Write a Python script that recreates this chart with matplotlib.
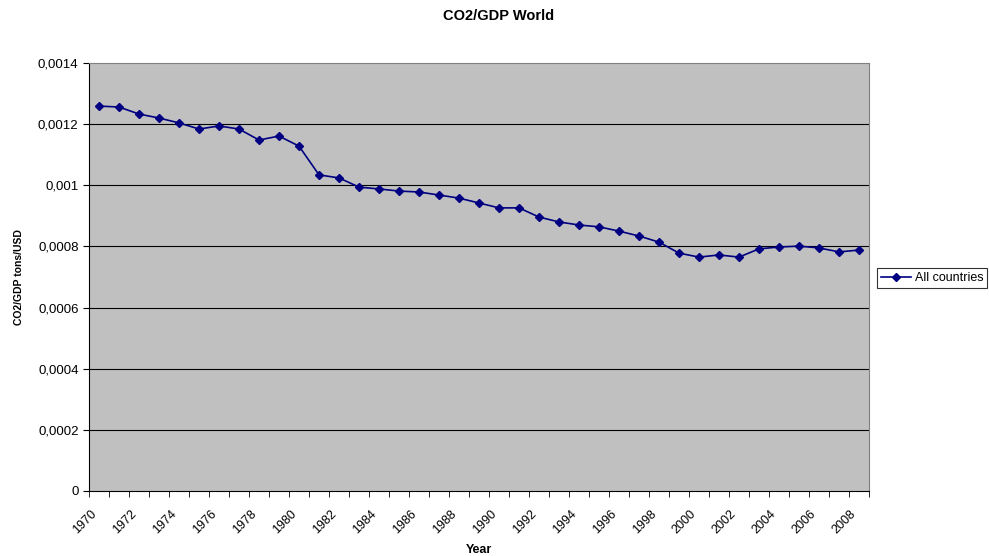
import numpy as np
import matplotlib.pyplot as plt

plt.rcParams['font.family'] = ['Liberation Sans', 'DejaVu Sans']

years = list(range(1970, 2009))
co2_gdp = [0.001259, 0.001256, 0.001233, 0.001220, 0.001204, 0.001184, 0.001194,
           0.001184, 0.001148, 0.001161, 0.001128, 0.001034, 0.001024, 0.000994,
           0.000988, 0.000981, 0.000978, 0.000968, 0.000958, 0.000942, 0.000926,
           0.000926, 0.000896, 0.000880, 0.000870, 0.000864, 0.000850, 0.000834,
           0.000814, 0.000778, 0.000765, 0.000772, 0.000765, 0.000792, 0.000798,
           0.000801, 0.000795, 0.000782, 0.000788]
y_ticks = [0, 0.0002, 0.0004, 0.0006, 0.0008, 0.001, 0.0012, 0.0014]

fig = plt.figure(figsize=(9.89, 5.56), dpi=100)
ax = fig.add_axes([0.09, 0.117, 0.7887, 0.7697])
ax.set_facecolor('#c0c0c0')

x = np.arange(len(years))
ax.plot(x, co2_gdp, color='#000080', marker='D', markersize=4.5, linewidth=1.2,
        label='All countries')

ax.set_xlim(-0.5, len(years) - 0.5)
ax.set_ylim(0, 0.0014)

# horizontal grid
ax.set_yticks(y_ticks)
ax.set_yticklabels([f"{v:g}".replace('.', ',') for v in y_ticks], fontsize=9.5)
for v in y_ticks[1:-1]:
    ax.axhline(v, color='black', linewidth=0.8, zorder=0.5)

# category ticks between bins, labels on every other year (nudged left a bit)
ax.set_xticks(np.arange(-0.5, len(years)), minor=True)
ax.set_xticks(x[::2] - 0.45)
ax.set_xticklabels([str(y) for y in years[::2]], rotation=45, ha='right',
                   rotation_mode='anchor', fontsize=9)
ax.tick_params(axis='x', which='major', length=0, pad=12)
ax.tick_params(axis='x', which='minor', length=4, direction='out', color='black')
ax.tick_params(axis='y', length=4, direction='out', color='black')

for side in ['top', 'right']:
    ax.spines[side].set_color('#808080')
for side in ['left', 'bottom']:
    ax.spines[side].set_color('black')

ax.set_xlabel('Year', fontsize=9, fontweight='bold', labelpad=6)
ax.set_ylabel('CO2/GDP tons/USD', fontsize=7.5, fontweight='bold', labelpad=10)
fig.text(0.504, 0.972, 'CO2/GDP World', ha='center', va='center',
         fontsize=10.5, fontweight='bold')

leg = fig.legend(loc='center left', bbox_to_anchor=(0.887, 0.4998), fontsize=9,
                 fancybox=False, frameon=True, edgecolor='black', borderpad=0.3,
                 handlelength=2.4, handletextpad=0.3, borderaxespad=0)
leg.get_frame().set_linewidth(0.8)

fig.savefig('out.png', dpi=100)
